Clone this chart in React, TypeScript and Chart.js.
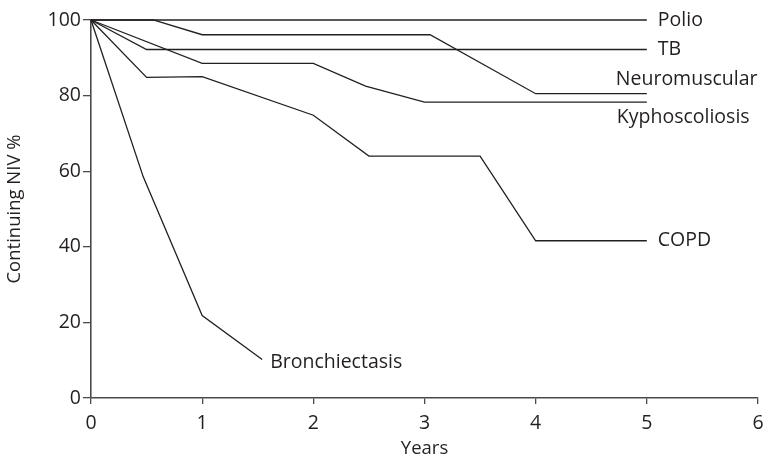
import React, { useEffect, useRef } from "react";
import { Chart, registerables } from "chart.js";

Chart.register(...registerables);

const seriesNames = ["Polio", "TB", "Neuromuscular", "Kyphoscoliosis", "COPD", "Bronchiectasis"];

const polioX = [0, 5];
const polioY = [100, 100];
const tbX = [0, 0.5, 5];
const tbY = [100, 92.2, 92.2];
const neuroX = [0, 0.56, 1, 3.05, 4, 5];
const neuroY = [100, 100, 96.1, 96.1, 80.5, 80.5];
const kyphoX = [0, 1, 2, 2.47, 3, 5];
const kyphoY = [100, 88.5, 88.5, 82.5, 78.3, 78.3];
const copdX = [0, 0.5, 1, 2, 2.5, 3.5, 4, 5];
const copdY = [100, 84.8, 85, 74.8, 64, 64, 41.6, 41.6];
const bronchX = [0, 0.47, 1, 1.54];
const bronchY = [100, 58.5, 21.8, 10.2];

const xTicks = [0, 1, 2, 3, 4, 5, 6];
const yTicks = [0, 20, 40, 60, 80, 100];

const FONT = "'Open Sans', sans-serif";
const INK = "#231f20";
const AXIS = "#4a4a4a";

// label offsets (pixels) relative to the last point of each line
const labelOffsets: [number, number][] = [
  [11, 0],
  [11, 0],
  [-31, -14],
  [-30, 15],
  [11, 0],
  [8, 3],
];

const zip = (xs: number[], ys: number[]) => xs.map((x, i) => ({ x, y: ys[i] }));

const endLabels = {
  id: "endLabels",
  afterDatasetsDraw(chart: any) {
    const ctx = chart.ctx;
    ctx.save();
    ctx.font = `19.5px ${FONT}`;
    ctx.fillStyle = INK;
    ctx.textAlign = "left";
    ctx.textBaseline = "middle";
    chart.data.datasets.forEach((ds: any, i: number) => {
      const meta = chart.getDatasetMeta(i);
      const last = meta.data[meta.data.length - 1];
      const [dx, dy] = labelOffsets[i];
      ctx.fillText(ds.label, last.x + dx, last.y + dy);
    });
    ctx.restore();
  },
};

export default function App() {
  const ref = useRef<HTMLCanvasElement>(null);
  useEffect(() => {
    document.body.style.margin = "0";
    const seriesData = [
      zip(polioX, polioY),
      zip(tbX, tbY),
      zip(neuroX, neuroY),
      zip(kyphoX, kyphoY),
      zip(copdX, copdY),
      zip(bronchX, bronchY),
    ];
    const chart = new Chart(ref.current!, {
      type: "scatter",
      data: {
        datasets: seriesData.map((d, i) => ({
          label: seriesNames[i],
          data: d,
          showLine: true,
          borderColor: INK,
          backgroundColor: INK,
          borderWidth: 1.3,
          pointRadius: 0,
          tension: 0,
          clip: false,
        })),
      },
      options: {
        animation: false,
        responsive: false,
        events: [],
        layout: { padding: { top: 20, right: 8, left: 0, bottom: 0 } },
        plugins: { legend: { display: false }, tooltip: { enabled: false } },
        scales: {
          x: {
            type: "linear",
            min: 0,
            max: 6,
            afterBuildTicks: (s: any) => {
              s.ticks = xTicks.map((v) => ({ value: v }));
            },
            afterFit: (s: any) => {
              s.height = 56;
              s.paddingLeft = 0;
              s.paddingRight = 0;
            },
            grid: { display: true, drawOnChartArea: false, drawTicks: true, tickLength: 6, color: AXIS, lineWidth: 1.3 },
            border: { display: true, color: AXIS, width: 1.6 },
            ticks: { color: INK, font: { family: FONT, size: 19.5 }, padding: 8, maxRotation: 0 },
            title: { display: true, text: "Years", color: INK, font: { family: FONT, size: 18.5 }, padding: { top: 4, bottom: -6 } },
          },
          y: {
            type: "linear",
            min: 0,
            max: 100,
            afterBuildTicks: (s: any) => {
              s.ticks = yTicks.map((v) => ({ value: v }));
            },
            afterFit: (s: any) => {
              s.width = 91;
            },
            grid: { display: true, drawOnChartArea: false, drawTicks: true, tickLength: 8, color: AXIS, lineWidth: 1.3 },
            border: { display: true, color: AXIS, width: 1.6 },
            ticks: { color: INK, font: { family: FONT, size: 19.5 }, padding: 2 },
            title: { display: true, text: "Continuing NIV %", color: INK, font: { family: FONT, size: 18.5 }, padding: { top: 4, bottom: 4 } },
          },
        },
      },
      plugins: [endLabels],
    });
    return () => chart.destroy();
  }, []);
  return (
    <div style={{ width: 766, height: 454, background: "#fff" }}>
      <canvas ref={ref} width={766} height={454} style={{ display: "block" }} />
    </div>
  );
}
